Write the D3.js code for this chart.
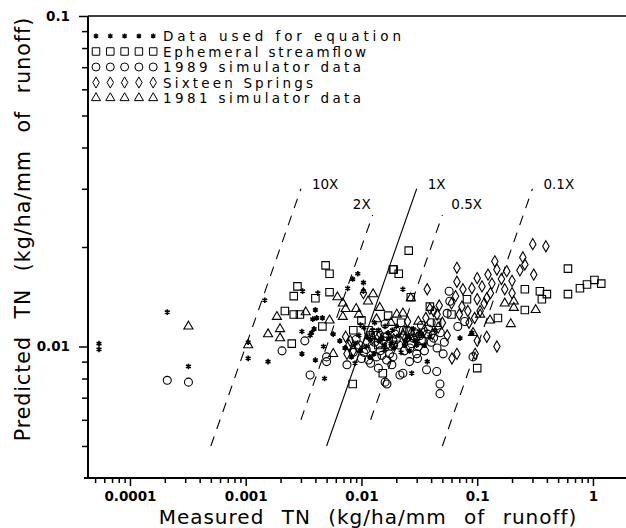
<!DOCTYPE html>
<html>
<head>
<meta charset="utf-8">
<script src="https://cdn.jsdelivr.net/npm/d3@7"></script>
<style>
  body { margin: 0; background: #fff; }
  svg { display: block; }
  text { font-family: "DejaVu Sans", sans-serif; fill: #000; }
</style>
</head>
<body>
<svg id="chart" width="626" height="528"></svg>
<script>
// measured TN vs predicted TN, kg/ha/mm of runoff
const eqPts = [
  [5.4e-5,0.0102],[5.4e-5,0.0098],[2.1e-4,0.0127],[3.2e-4,0.0087],[1.05e-3,0.0092],[1.05e-3,0.0103],
  [1.46e-3,0.0138],[1.56e-3,0.0090],[3.1e-3,0.0147],[4.2e-3,0.0145],[9.3e-3,0.0166],[8.4e-3,0.0160],
  [0.0104,0.0156],[7.6e-3,0.0150],[0.0104,0.0147],[4.0e-3,0.0129],[4.1e-3,0.0122],[4.6e-3,0.0122],
  [3.8e-3,0.0121],[3.7e-3,0.0110],[3.9e-3,0.0113],[3.6e-3,0.0108],[3.06e-3,0.0111],[3.06e-3,0.0095],
  [4.0e-3,0.0091],[4.7e-3,0.0100],[5.7e-3,0.0109],[4.8e-3,0.0080],[0.0118,0.0093],[8.8e-3,0.0089],
  [0.0228,0.0149],[0.037,0.0090],[0.0272,0.0083],[0.071,0.0106],[0.090,0.0110],
  [0.012,0.0105],[0.014,0.0112],[0.016,0.0098],[0.020,0.0115],[0.018,0.0102],[0.025,0.0107],
  [0.030,0.0101],[0.013,0.0118],[0.022,0.0096],[0.028,0.0113],[0.0095,0.0108],[0.011,0.0100],
  [0.015,0.0106],[0.017,0.0110],[0.019,0.0099],[0.024,0.0104],[0.033,0.0109],[0.0105,0.0114],
  [0.0065,0.0104],[0.0072,0.0099],
  [0.0088,0.0102],[0.0098,0.0097],[0.0112,0.0107],[0.0128,0.0095],[0.0142,0.0104],[0.0158,0.0101],
  [0.0172,0.0106],[0.0185,0.0112],[0.021,0.0108],[0.0235,0.0101],[0.026,0.0097],[0.029,0.0104],
  [0.0315,0.0111],[0.035,0.0101],[0.039,0.0107],[0.043,0.0112],[0.0125,0.0112],[0.016,0.0115],
  [0.0098,0.0116],[0.0082,0.0093]
];
const ephPts = [
  [4.9e-3,0.0176],[5.3e-3,0.0166],[0.019,0.0171],[2.8e-3,0.0152],[2.6e-3,0.0142],[4.0e-3,0.0140],
  [5.3e-3,0.0146],[2.18e-3,0.0128],[2.6e-3,0.0125],[2.94e-3,0.0125],[4.6e-3,0.0115],[2.5e-3,0.0102],
  [8.4e-3,0.0077],[0.0153,0.0083],[0.0256,0.0195],[0.0187,0.0171],[0.021,0.0166],[0.0267,0.0141],
  [0.0816,0.0139],[0.258,0.0149],[0.348,0.0147],[0.40,0.0144],[0.362,0.0139],[0.258,0.0129],
  [0.608,0.0172],[0.608,0.0144],[0.772,0.0150],[0.888,0.0154],[1.03,0.0159],[1.18,0.0155],
  [0.100,0.0086],[0.151,0.0122],[0.039,0.0132],
  [0.012,0.0108],[0.017,0.0124],[0.045,0.0118],[0.060,0.0125],[0.010,0.0120],[0.014,0.0101],
  [0.022,0.0118],[0.0085,0.0112],
  [0.0115,0.0112],[0.016,0.0107],[0.026,0.0111],[0.033,0.0104]
];
const sim89Pts = [
  [2.1e-4,0.0079],[3.2e-4,0.0078],[3.24e-3,0.0104],[2.06e-3,0.0097],[5.0e-3,0.0093],[5.0e-3,0.0090],
  [3.6e-3,0.0082],[0.016,0.0078],[0.0126,0.0110],[0.016,0.0117],[0.019,0.0101],[0.0215,0.0082],
  [0.0183,0.0088],[0.0572,0.0147],[0.058,0.0137],[0.055,0.0126],[0.068,0.0115],[0.078,0.0119],
  [0.0508,0.0095],[0.035,0.0097],[0.0447,0.0084],[0.0365,0.0085],[0.0477,0.0077],[0.0477,0.0072],
  [0.0228,0.0083],[0.0166,0.0077],[0.0166,0.0107],[0.0246,0.0106],[0.0187,0.0093],[0.0305,0.0092],
  [0.092,0.0093],[0.0262,0.0099],
  [0.011,0.0098],[0.013,0.0103],[0.015,0.0094],[0.020,0.0105],[0.023,0.0112],[0.027,0.0102],
  [0.032,0.0108],[0.040,0.0103],[0.045,0.0099],[0.030,0.0095],[0.009,0.0105],[0.0085,0.0096],
  [0.0075,0.0088],[0.012,0.0089],[0.014,0.0086],[0.026,0.0090],[0.038,0.0113],[0.010,0.0092],
  [0.0095,0.0101],[0.0105,0.0096],[0.0125,0.0099],[0.0135,0.0108],[0.0145,0.0097],[0.0155,0.0104],
  [0.0175,0.0095],[0.0195,0.0109],[0.021,0.0101],[0.0235,0.0097],[0.025,0.0112],[0.028,0.0106],
  [0.031,0.0100],[0.034,0.0104],[0.037,0.0109],[0.042,0.0106],[0.048,0.0110],[0.052,0.0103],
  [0.0115,0.0091],[0.0135,0.0093],[0.0165,0.0091],[0.029,0.0110],[0.033,0.0116],[0.040,0.0118]
];
const springsPts = [
  [0.302,0.0204],[0.392,0.0201],[0.248,0.0186],[0.258,0.0177],[0.234,0.0170],[0.308,0.0165],
  [0.142,0.0181],[0.180,0.0169],[0.0668,0.0173],[0.0668,0.0157],[0.0753,0.0149],[0.090,0.0150],
  [0.100,0.0161],[0.110,0.0152],[0.124,0.0165],[0.134,0.0155],[0.148,0.0171],[0.173,0.0149],
  [0.162,0.0160],[0.100,0.0139],[0.121,0.0140],[0.106,0.0128],[0.0738,0.0132],[0.083,0.0128],
  [0.148,0.0100],[0.121,0.0107],[0.100,0.0104],[0.096,0.0095],[0.0668,0.0095],[0.0605,0.0092],
  [0.037,0.0149],[0.039,0.0130],
  [0.0073,0.0107],[0.0078,0.0101],[0.0085,0.0097],[0.0080,0.0104],[0.0075,0.0095],[0.0104,0.0145],
  [0.045,0.0125],[0.050,0.0118],[0.055,0.0108],[0.085,0.0118],[0.095,0.0122],[0.130,0.0145],
  [0.115,0.0135],[0.200,0.0158],[0.200,0.0145],
  [0.0092,0.0100],[0.011,0.0103],[0.0125,0.0106],[0.0145,0.0109],[0.017,0.0102],[0.019,0.0105],
  [0.023,0.0108],[0.027,0.0110],[0.030,0.0106],[0.035,0.0112],[0.041,0.0109],[0.046,0.0114],
  [0.036,0.0122],[0.042,0.0128],[0.047,0.0133],[0.025,0.0119],[0.060,0.0135],[0.065,0.0142],
  [0.070,0.0125]
];
const sim81Pts = [
  [3.2e-4,0.0115],[1.05e-3,0.0101],[6.2e-3,0.0141],[0.0126,0.0144],[6.9e-3,0.0135],[7.3e-3,0.0130],
  [9.0e-3,0.0130],[0.0114,0.0137],[0.0144,0.0131],[0.0202,0.0125],[3.3e-3,0.0127],[1.86e-3,0.0123],
  [1.98e-3,0.0113],[1.56e-3,0.0109],[1.98e-3,0.0106],[5.3e-3,0.0120],[6.9e-3,0.0123],[5.7e-3,0.0095],
  [0.0228,0.0126],[0.173,0.0135],[0.207,0.0137],[0.207,0.0131],[0.320,0.0129],[0.195,0.0117],
  [0.092,0.0110],[0.129,0.0120],[0.106,0.0125],[0.0267,0.0140],
  [0.0135,0.0121],[0.018,0.0118],[0.031,0.0119],[0.0095,0.0125]
];

const seriesNames = ["Data used for equation", "Ephemeral streamflow", "1989 simulator data",
  "Sixteen Springs", "1981 simulator data"];

// predicted = factor * measured
const refFactors = [10, 2, 1, 0.5, 0.1];
const refLabels = ["10X", "2X", "1X", "0.5X", "0.1X"];
const refYLow = [0.005, 0.006, 0.005, 0.006, 0.005];
const refYHigh = [0.03, 0.025, 0.03, 0.025, 0.03];

const xMajor = [0.0001, 0.001, 0.01, 0.1, 1];
const xLabels = ["0.0001", "0.001", "0.01", "0.1", "1"];
const yMajor = [0.01, 0.1];
const yLabels = ["0.01", "0.1"];

const svg = d3.select("#chart");
const plotL = 88, plotR = 626, plotT = 16, plotB = 478;

const x = d3.scaleLog().domain([4.34e-5, 1.93]).range([plotL, plotR]);
const y = d3.scaleLog().domain([0.004, 0.1]).range([plotB, plotT]);

function minors(lo, hi) {
  let out = [];
  for (let e = -5; e <= 1; e++) {
    for (let m = 2; m <= 9; m++) {
      let v = m * Math.pow(10, e);
      if (v > lo && v < hi) out.push(v);
    }
  }
  return out;
}

// axes
const gx = svg.append("g").attr("transform", "translate(0," + plotB + ")");
gx.append("g").call(d3.axisBottom(x).tickValues(minors(...x.domain())).tickSize(5).tickFormat(""));
gx.append("g").call(d3.axisBottom(x).tickValues(xMajor).tickSize(8).tickFormat((d, i) => xLabels[i]));
gx.selectAll(".domain").remove();
gx.selectAll("line").attr("stroke", "#000").attr("stroke-width", 1.5);
gx.selectAll("text")
    .attr("dy", null).attr("y", 23)
    .attr("fill", "#000")
    .style("font-family", "'DejaVu Sans', sans-serif")
    .style("font-weight", "bold").style("font-size", "13.5px");

const gy = svg.append("g").attr("transform", "translate(" + plotL + ",0)");
gy.append("g").call(d3.axisLeft(y).tickValues(minors(...y.domain())).tickSize(6).tickFormat(""));
gy.append("g").call(d3.axisLeft(y).tickValues(yMajor).tickSize(9).tickFormat((d, i) => yLabels[i]));
gy.selectAll(".domain").remove();
gy.selectAll("line").attr("stroke", "#000").attr("stroke-width", 1.5);
gy.selectAll("text")
    .attr("x", -18)
    .attr("fill", "#000")
    .style("font-family", "'DejaVu Sans', sans-serif")
    .style("font-weight", "bold").style("font-size", "13.5px");

// frame
svg.append("line").attr("x1", plotL).attr("x2", plotR).attr("y1", plotT).attr("y2", plotT)
    .attr("stroke", "#000").attr("stroke-width", 1.5);
svg.append("line").attr("x1", plotL).attr("x2", plotL).attr("y1", plotT).attr("y2", plotB)
    .attr("stroke", "#000").attr("stroke-width", 2);
svg.append("line").attr("x1", plotL - 4).attr("x2", plotR).attr("y1", plotB).attr("y2", plotB)
    .attr("stroke", "#000").attr("stroke-width", 2);

// reference lines
const refG = svg.append("g");
refFactors.forEach((k, i) => {
  let x1 = x(refYLow[i] / k), y1 = y(refYLow[i]);
  let x2 = x(refYHigh[i] / k), y2 = y(refYHigh[i]);
  refG.append("line")
      .attr("x1", x1).attr("y1", y1).attr("x2", x2).attr("y2", y2)
      .attr("stroke", "#000").attr("stroke-width", 1.1)
      .attr("stroke-dasharray", k === 1 ? null : "10,8");
  let lbl = refG.append("text")
      .style("font-size", "13.5px")
      .text(refLabels[i]);
  if (k === 2) {
    lbl.attr("x", x2 - 2).attr("y", y2 - 6).attr("text-anchor", "end");
  } else if (k === 0.5) {
    lbl.attr("x", x2 + 9).attr("y", y2 - 6);
  } else {
    lbl.attr("x", x2 + 11).attr("y", y2);
  }
});

// symbols
const symAsterisk = d3.symbol().type(d3.symbolAsterisk).size(22);
const symSquare = d3.symbol().type(d3.symbolSquare).size(56);
const symCircle = d3.symbol().type(d3.symbolCircle).size(50);
const symDiamond = d3.symbol().type(d3.symbolDiamond).size(36);
const symTriangle = d3.symbol().type(d3.symbolTriangle).size(36);
const symbols = [symAsterisk, symSquare, symCircle, symDiamond, symTriangle];
const allSeries = [eqPts, ephPts, sim89Pts, springsPts, sim81Pts];

const ptsG = svg.append("g");
[1, 2, 3, 4, 0].forEach(si => {
  ptsG.append("g").selectAll("path")
      .data(allSeries[si])
      .join("path")
      .attr("transform", d => "translate(" + x(d[0]) + "," + y(d[1]) + ")")
      .attr("d", symbols[si]())
      .attr("fill", si === 0 ? "#000" : "none")
      .attr("stroke", "#000")
      .attr("stroke-width", si === 0 ? 1.6 : 1.1);
});

// legend
const legRowY = [36, 51.5, 67, 82.5, 98];
const legTextLen = [238, 203, 198, 150, 198];
const legG = svg.append("g");
seriesNames.forEach((name, i) => {
  for (let j = 0; j < 5; j++) {
    legG.append("path")
        .attr("transform", "translate(" + (96 + j * 14.3) + "," + legRowY[i] + ")")
        .attr("d", i === 0 ? d3.symbol().type(d3.symbolAsterisk).size(18)() : symbols[i]())
        .attr("fill", i === 0 ? "#000" : "none")
        .attr("stroke", "#000")
        .attr("stroke-width", i === 0 ? 1.4 : 1);
  }
  legG.append("text")
      .attr("x", 163).attr("y", legRowY[i] + 5)
      .attr("textLength", legTextLen[i]).attr("lengthAdjust", "spacing")
      .style("font-size", "13.5px")
      .text(name);
});

// axis titles
svg.append("text")
    .attr("x", 368).attr("y", 524)
    .attr("text-anchor", "middle")
    .style("font-size", "20px").style("letter-spacing", "1px").style("word-spacing", "10px")
    .text("Measured TN (kg/ha/mm of runoff)");

svg.append("text")
    .attr("transform", "translate(30,229) rotate(-90)")
    .attr("text-anchor", "middle")
    .style("font-size", "20.5px").style("letter-spacing", "1px").style("word-spacing", "10px")
    .text("Predicted TN (kg/ha/mm of runoff)");
</script>
</body>
</html>
